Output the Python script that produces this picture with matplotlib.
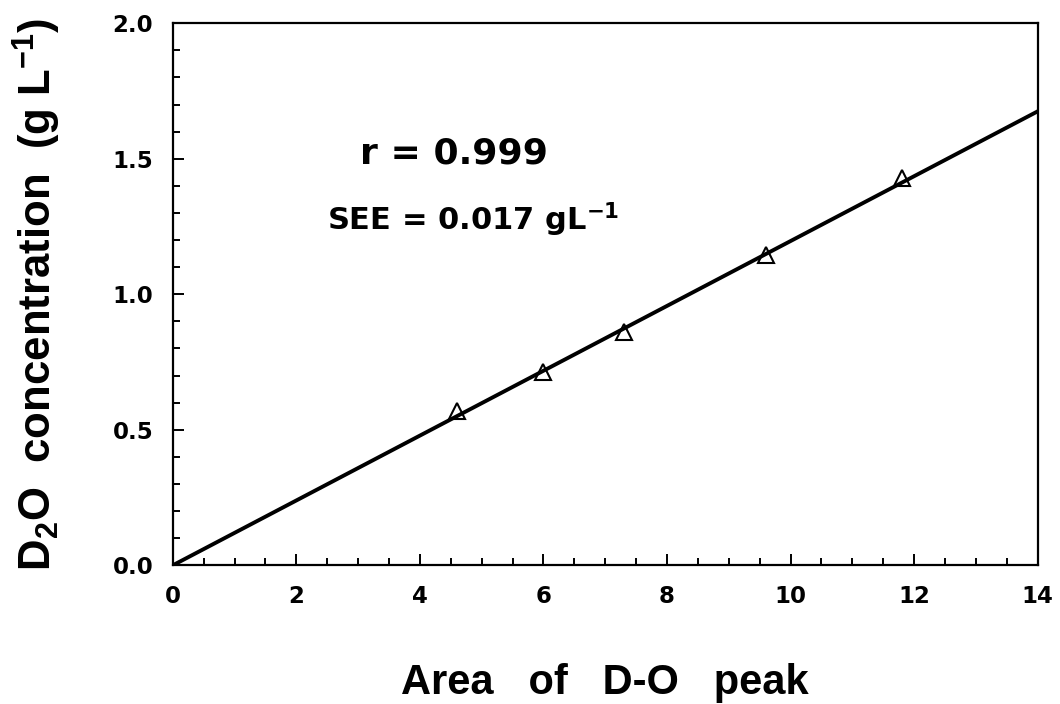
import numpy as np
import matplotlib
matplotlib.use("Agg")
import matplotlib.pyplot as plt
from matplotlib.ticker import MultipleLocator

# data
peak_area = [4.6, 6.0, 7.3, 9.6, 11.8]
d2o_conc = [0.57, 0.715, 0.86, 1.145, 1.43]
fit_x = [0, 14]
fit_y = [0, 1.675]

plt.rcParams['font.family'] = ['Liberation Sans', 'DejaVu Sans']
plt.rcParams['font.weight'] = 'bold'
plt.rcParams['mathtext.fontset'] = 'custom'
plt.rcParams['mathtext.rm'] = 'Liberation Sans:bold'
plt.rcParams['mathtext.default'] = 'rm'

heavy = ['DejaVu Sans']

fig = plt.figure(figsize=(10.6, 7.04), dpi=100)
ax = fig.add_axes([0.163, 0.197, 0.816, 0.770])

ax.plot(fit_x, fit_y, color='black', lw=2.8)
ax.plot(peak_area, d2o_conc, linestyle='none', marker='^', markersize=12,
        markerfacecolor='none', markeredgecolor='black', markeredgewidth=1.5)

ax.set_xlim(0, 14)
ax.set_ylim(0, 2.0)
ax.xaxis.set_major_locator(MultipleLocator(2))
ax.xaxis.set_minor_locator(MultipleLocator(0.5))
ax.yaxis.set_major_locator(MultipleLocator(0.5))
ax.yaxis.set_minor_locator(MultipleLocator(0.1))
ax.yaxis.set_major_formatter(plt.FormatStrFormatter('%.1f'))

ax.tick_params(which='both', direction='in', top=False, right=False, width=1.4)
ax.tick_params(which='major', length=8, pad=14)
ax.tick_params(which='minor', length=5)
for lab in ax.get_xticklabels() + ax.get_yticklabels():
    lab.set_family(heavy)
    lab.set_fontsize(16.5)
    lab.set_fontweight('bold')
for s in ax.spines.values():
    s.set_linewidth(1.6)

ax.set_xlabel('Area   of   D-O   peak', fontsize=30, fontweight='bold', labelpad=40)
ax.set_ylabel(r'D$_2$O  concentration  (g L$^{-1}$)', fontsize=31.5,
              fontweight='bold', labelpad=36)

ax.text(3.03, 1.52, 'r = 0.999', fontsize=26, fontweight='bold', va='center',
        family=heavy)
ax.text(2.5, 1.275, 'SEE = 0.017 gL$^{\\mathregular{-1}}$', fontsize=22,
        fontweight='bold', va='center', family=heavy)

fig.savefig('out.png', dpi=100)
